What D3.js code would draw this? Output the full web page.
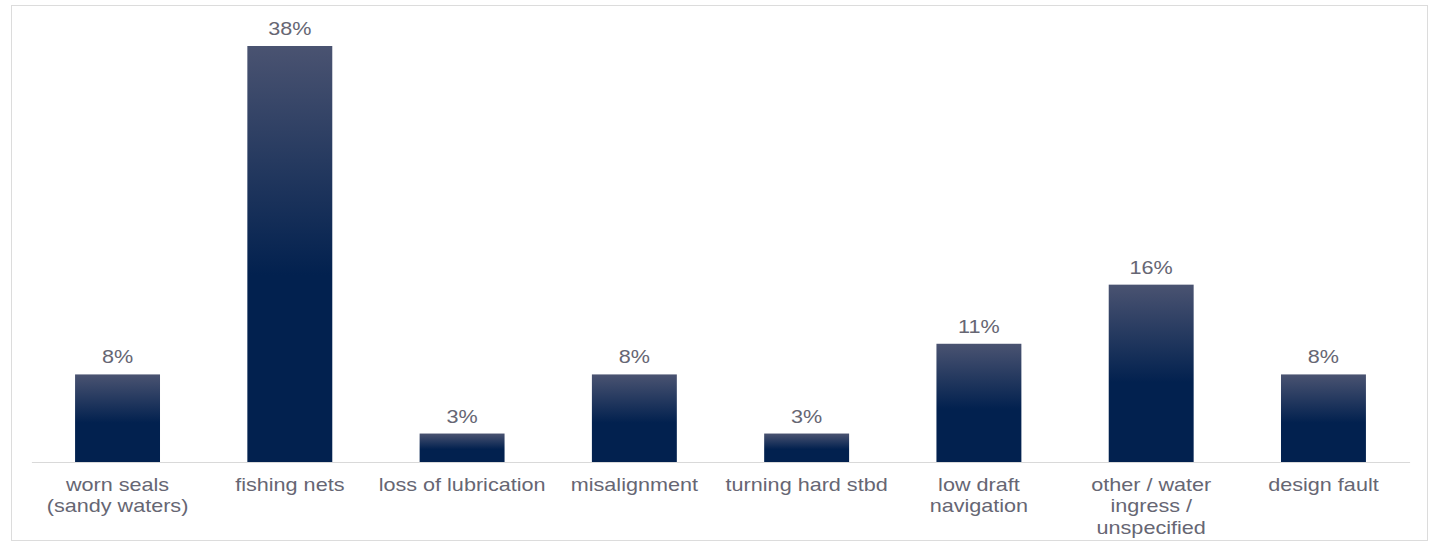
<!DOCTYPE html>
<html>
<head>
<meta charset="utf-8">
<script src="https://cdn.jsdelivr.net/npm/d3@7/dist/d3.min.js"></script>
<style>
  html, body { margin: 0; padding: 0; background: #ffffff; }
  svg { display: block; }
  text { font-family: "Liberation Sans", Arial, sans-serif; }
</style>
</head>
<body>
<svg id="chart" width="1436" height="544"></svg>
<script>
const categories = [
  ["worn seals", "(sandy waters)"],
  ["fishing nets"],
  ["loss of lubrication"],
  ["misalignment"],
  ["turning hard stbd"],
  ["low draft", "navigation"],
  ["other / water", "ingress /", "unspecified"],
  ["design fault"]
];
const values = [8.0, 38.0, 2.6, 8.0, 2.6, 10.8, 16.2, 8.0];
const valueLabels = ["8%", "38%", "3%", "8%", "3%", "11%", "16%", "8%"];

const W = 1436, H = 544;
const svg = d3.select("#chart");

// outer frame
svg.append("rect")
  .attr("x", 11.5).attr("y", 5.5)
  .attr("width", 1416).attr("height", 535)
  .attr("fill", "none").attr("stroke", "#dcdcdc").attr("stroke-width", 1);

const defs = svg.append("defs");
const grad = defs.append("linearGradient")
  .attr("id", "barGrad").attr("x1", 0).attr("y1", 0).attr("x2", 0).attr("y2", 1);
grad.append("stop").attr("offset", "0%").attr("stop-color", "#4a5371");
grad.append("stop").attr("offset", "55%").attr("stop-color", "#02214f");
grad.append("stop").attr("offset", "100%").attr("stop-color", "#02214f");

const idx = d3.range(values.length);
const x = d3.scaleBand()
  .domain(idx)
  .range([31.4, 1409.6])
  .paddingInner(0.507)
  .paddingOuter(0.2535);

const y = d3.scaleLinear().domain([0, 38]).range([462, 46]);

const textColor = "#666673";
const sx = 1.2; // horizontal stretch of the text in the reference

// bars
svg.append("g").selectAll("rect")
  .data(idx)
  .join("rect")
  .attr("x", i => x(i))
  .attr("y", i => y(values[i]))
  .attr("width", x.bandwidth())
  .attr("height", i => y(0) - y(values[i]))
  .attr("fill", "url(#barGrad)");

// baseline (category axis)
const xAxis = d3.axisBottom(x).tickSize(0).tickFormat("");
const axG = svg.append("g").attr("transform", `translate(0,${y(0)})`).call(xAxis);
axG.select(".domain").attr("stroke", "#d9d9d9").attr("stroke-width", 1);

// value labels
svg.append("g").selectAll("text")
  .data(idx)
  .join("text")
  .attr("transform", i => `translate(${x(i) + x.bandwidth() / 2},${y(values[i]) - 11}) scale(${sx},1)`)
  .attr("text-anchor", "middle")
  .attr("font-size", 18)
  .attr("fill", textColor)
  .text(i => valueLabels[i]);

// category labels
const catG = svg.append("g").selectAll("text")
  .data(idx)
  .join("text")
  .attr("transform", i => `translate(${x(i) + x.bandwidth() / 2},${y(0) + 29}) scale(${sx},1)`)
  .attr("text-anchor", "middle")
  .attr("font-size", 18)
  .attr("fill", textColor);

catG.selectAll("tspan")
  .data(i => categories[i])
  .join("tspan")
  .attr("x", 0)
  .attr("dy", (d, j) => j === 0 ? 0 : 21.5)
  .text(d => d);
</script>
</body>
</html>
